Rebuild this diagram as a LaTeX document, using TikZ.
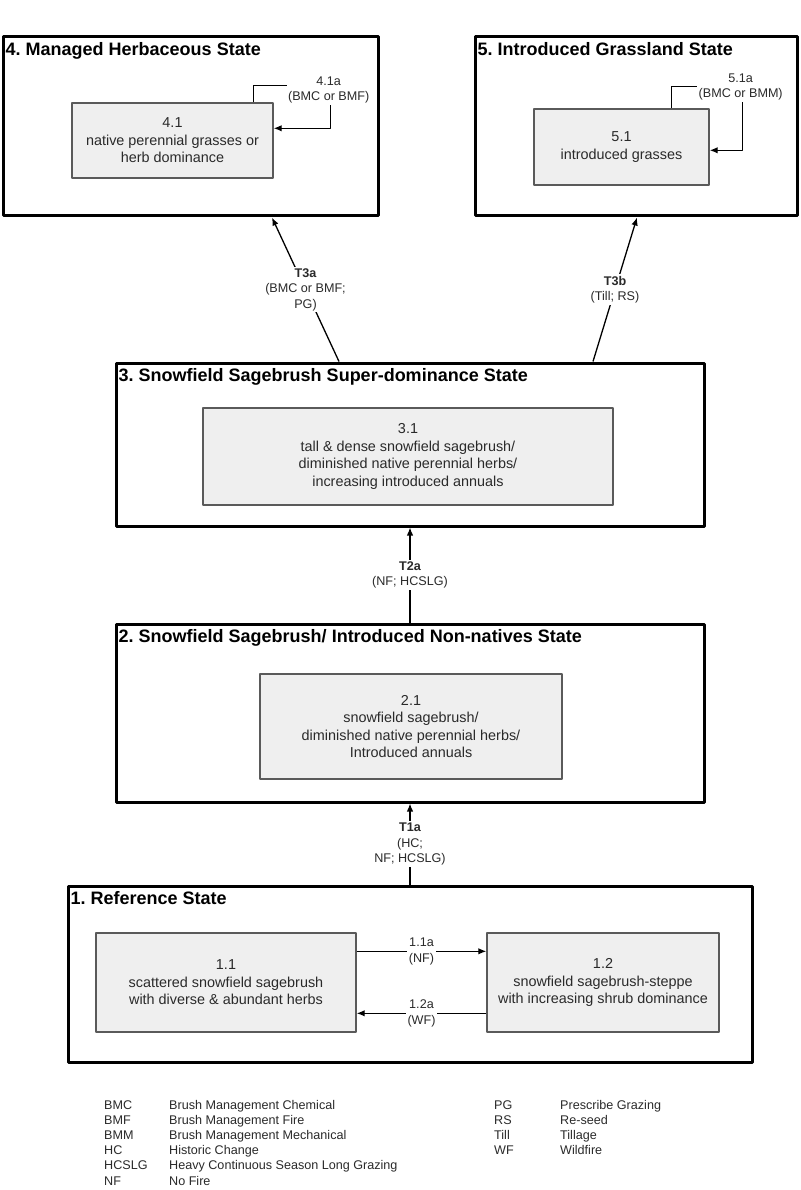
\documentclass[tikz,border=0pt]{standalone}
\usepackage{fontspec}
\setmainfont{Liberation Sans}
\usetikzlibrary{calc,arrows.meta}
\definecolor{boxfill}{HTML}{EFEFEF}
\definecolor{boxedge}{HTML}{5A5A5A}
\definecolor{inkgray}{HTML}{2A2A2A}
\frenchspacing
\begin{document}
\begin{tikzpicture}[x=1pt, y=-1pt, line join=round, >={Latex[length=8pt,width=6.5pt]},
	state/.style={draw=black, line width=3pt, inner sep=0pt},
	phase/.style={draw=boxedge, fill=boxfill, line width=1.4pt, inner sep=0pt, align=center, text=inkgray, font=\fontsize{14.4}{17.5}\selectfont},
	heading/.style={anchor=base west, inner sep=0pt, font=\bfseries\fontsize{18}{21}\selectfont},
	why/.style={fill=white, inner sep=1.5pt, align=center, text=inkgray, font=\fontsize{12.6}{15.5}\selectfont},
	legend/.style={anchor=base west, inner sep=0pt, text=inkgray, font=\fontsize{12.6}{15}\selectfont},
	move/.style={line width=1.3pt}]
	\useasboundingbox (0,0) rectangle (800,1190);
	% states
	\node[state, minimum width=375, minimum height=179] (s4) at (190.5,126.5) {};
	\node[state, minimum width=322, minimum height=179] (s5) at (636,126.5) {};
	\node[state, minimum width=588, minimum height=163] (s3) at (410,444.5) {};
	\node[state, minimum width=588, minimum height=178] (s2) at (410,713) {};
	\node[state, minimum width=684, minimum height=176] (s1) at (410,974) {};
	\foreach\s/\t in {s4/{4. Managed Herbaceous State}, s5/{5. Introduced Grassland State}, s3/{3. Snowfield Sagebrush Super-dominance State}, s2/{2. Snowfield Sagebrush/ Introduced Non-natives State}, s1/{1. Reference State}}{\node[heading] (t\s) at ($(\s.north west)+(4,20)$) {\t};}
	% community phases
	\node[phase, minimum width=201, minimum height=75] (b41) at (172.5,140.5) {4.1\\native perennial grasses or\\herb dominance};
	\node[phase, minimum width=175, minimum height=76] (b51) at (621.5,147) {5.1\\introduced grasses};
	\node[phase, minimum width=410, minimum height=97] (b31) at (408,456.5) {3.1\\tall \& dense snowfield sagebrush/\\diminished native perennial herbs/\\increasing introduced annuals};
	\node[phase, minimum width=302, minimum height=105] (b21) at (411,726.5) {2.1\\snowfield sagebrush/\\diminished native perennial herbs/\\Introduced annuals};
	\node[phase, minimum width=260, minimum height=99] (b11) at (226,982.5) {1.1\\scattered snowfield sagebrush\\with diverse \& abundant herbs};
	\node[phase, minimum width=232, minimum height=99] (b12) at (603,982.5) {1.2\\snowfield sagebrush-steppe\\with increasing shrub dominance};
	% self loops
	\path ($(b41.north east)+(-20,0)$) coordinate (o41)
		($(b41.north east)+(57,-17)$) coordinate (k41)
		($(b41.north east)+(0,26)$) coordinate (e41)
		($(b51.north east)+(-38,0)$) coordinate (o51)
		($(b51.north east)+(33,-22)$) coordinate (k51)
		($(b51.north east)+(0,42)$) coordinate (e51);
	\draw[move,->] (o41) |- (k41) |- (e41);
	\node[why] (l41a) at ($(b41.north east)+(55,-12.5)$) {4.1a\\(BMC or BMF)};
	\draw[move,->] (o51) |- (k51) |- (e51);
	\node[why] (l51a) at ($(b51.north east)+(31,-21.5)$) {5.1a\\(BMC or BMM)};
	% transitions
	\draw[move,->] ([xshift=-71pt]s3.north) -- node[why] (lT3a) {\textbf{T3a}\\(BMC or BMF;\\PG)} ([xshift=81.5pt]s4.south);
	\draw[move,->] ([xshift=183pt]s3.north) -- node[why] (lT3b) {\textbf{T3b}\\(Till; RS)} ([xshift=1pt]s5.south);
	\draw[move,->] (s2.north) -- node[why] (lT2a) {\textbf{T2a}\\(NF; HCSLG)} (s3.south);
	\draw[move,->] (s1.north) -- node[why] (lT1a) {\textbf{T1a}\\(HC;\\NF; HCSLG)} (s2.south);
	\draw[move,->] ($(b11.north east)+(0,19)$) -- node[why] (l11a) {1.1a\\(NF)} ($(b12.north west)+(0,19)$);
	\draw[move,->] ($(b12.north west)+(0,81)$) -- node[why] (l12a) {1.2a\\(WF)} ($(b11.north east)+(0,81)$);
	% legend
	\foreach\ab/\txt [count=\i] in {BMC/Brush Management Chemical, BMF/Brush Management Fire, BMM/Brush Management Mechanical, HC/Historic Change, HCSLG/Heavy Continuous Season Long Grazing, NF/No Fire}{
		\node[legend] (ab\i) at (104,{1109+15.2*(\i-1)}) {\ab};
		\node[legend] (def\i) at (169,{1109+15.2*(\i-1)}) {\txt};}
	\foreach\ab/\txt [count=\i] in {PG/Prescribe Grazing, RS/Re-seed, Till/Tillage, WF/Wildfire}{
		\node[legend] (abr\i) at (494,{1109+15.2*(\i-1)}) {\ab};
		\node[legend] (defr\i) at (560,{1109+15.2*(\i-1)}) {\txt};}
\end{tikzpicture}
\end{document}
